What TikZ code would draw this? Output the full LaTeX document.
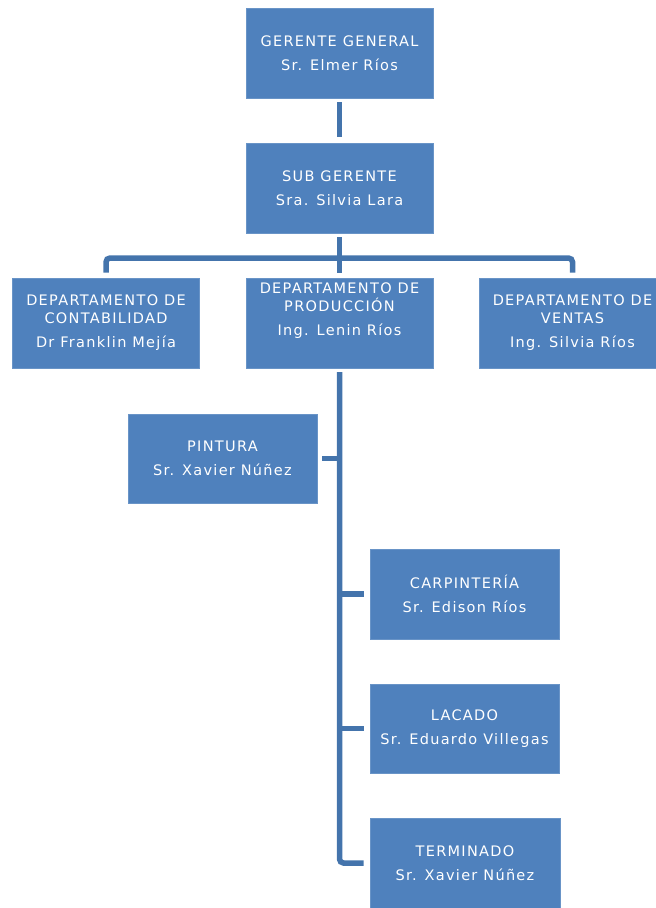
\documentclass[tikz,border=0pt]{standalone}
\usepackage{fontspec}
\newfontfamily\orgfont{DejaVu Sans}[LetterSpace=9]
\usetikzlibrary{calc}
\definecolor{boxblue}{HTML}{4F81BD}
\definecolor{lineblue}{HTML}{4474AC}
\tikzset{
  box/.style={rectangle, fill=boxblue, draw=boxblue!85!white, line width=0.6pt,
    minimum width=187, minimum height=90, inner sep=0pt, align=center,
    text=white, font=\orgfont\fontsize{14.5}{18}\selectfont},
  boxtext/.style={inner sep=0pt, align=center, text=white,
    font=\orgfont\fontsize{14.5}{18}\selectfont},
  conn/.style={draw=lineblue, line width=5.5pt}
}

\begin{document}
\begin{tikzpicture}[x=1pt, y=-1pt]
			%%%%% START %%%%%
			\useasboundingbox (0, 0) rectangle (656, 908);
			
			\node[box] (gerente) at (339.5, 53) {GERENTE GENERAL\\[6pt]Sr. Elmer Ríos};
			\node[box] (subgerente) at (339.5, 188) {SUB GERENTE\\[6pt]Sra. Silvia Lara};
			
			\node[box] (conta) at (106, 323) {DEPARTAMENTO DE\\CONTABILIDAD\\[6pt]Dr Franklin Mejía};
			\node[box] (prod) at (339.5, 323) {};
			\node[boxtext] (prodtext) at (339.5, 311) {DEPARTAMENTO DE\\PRODUCCIÓN\\[6pt]Ing. Lenin Ríos};
			\node[box] (ventas) at (572.5, 323) {DEPARTAMENTO DE\\VENTAS\\[6pt]Ing. Silvia Ríos};
			
			\node[box, minimum width=189, minimum height=89] (pintura) at (222.5, 458.5) {PINTURA\\[6pt]Sr. Xavier Núñez};
			\node[box, minimum width=189] (carpin) at (464.5, 594) {CARPINTERÍA\\[6pt]Sr. Edison Ríos};
			\node[box, minimum width=189, minimum height=89] (lacado) at (464.5, 728.5) {LACADO\\[6pt]Sr. Eduardo Villegas};
			\node[box, minimum width=190] (termin) at (465, 863) {TERMINADO\\[6pt]Sr. Xavier Núñez};
			
			\coordinate (bus) at (339.5, 258);
			\coordinate (trunk) at (339.5, 372);
			
			\draw[conn] ($(gerente.south)+(0, 4)$) -- ($(subgerente.north)+(0, -6)$);
			\draw[conn] ($(subgerente.south)+(0, 4)$) -- ($(prod.north)+(0, -5)$);
			\draw[conn, rounded corners=4] ($(conta.north)+(0, -5)$) |- (bus) -| ($(ventas.north)+(0, -5)$);
			
			\draw[conn, rounded corners=4] (trunk) |- ($(termin.west)+(-6, 0)$);
			\draw[conn] ($(pintura.east)+(5, 0)$) -- (pintura.east -| trunk);
			\draw[conn] (carpin.west -| trunk) -- ($(carpin.west)+(-6, 0)$);
			\draw[conn] (lacado.west -| trunk) -- ($(lacado.west)+(-6, 0)$);
			%%%%% END %%%%%
\end{tikzpicture}
\end{document}
